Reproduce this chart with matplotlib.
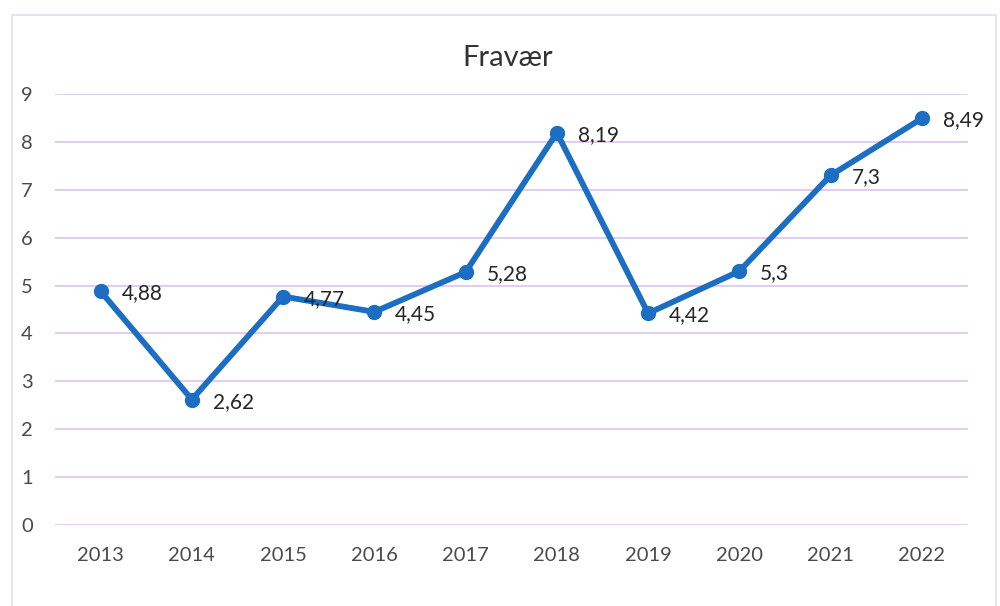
import matplotlib
matplotlib.use("Agg")
import matplotlib.pyplot as plt
from matplotlib.patches import Rectangle

years = ["2013", "2014", "2015", "2016", "2017", "2018", "2019", "2020", "2021", "2022"]
values = [4.88, 2.62, 4.77, 4.45, 5.28, 8.19, 4.42, 5.3, 7.3, 8.49]
labels = ["4,88", "2,62", "4,77", "4,45", "5,28", "8,19", "4,42", "5,3", "7,3", "8,49"]
title = "Fravær"

plt.rcParams['font.family'] = ['Lato', 'DejaVu Sans']
text_color = "#4a4a4a"
grid_color = "#dcc4ea"
line_color = "#1b6ec2"

fig = plt.figure(figsize=(10, 6.06), dpi=100)
fig.patch.set_facecolor("white")
fig.patches.append(Rectangle((0.012, -0.05), 0.984, 1.025, transform=fig.transFigure,
                             fill=False, edgecolor="#e6dcec", linewidth=1.2))

ax = fig.add_axes([0.055, 0.1337, 0.9125, 0.7112])
x = list(range(len(years)))
ax.plot(x, values, color=line_color, linewidth=4.2, marker="o", markersize=10,
        solid_joinstyle="round", zorder=3)
for xi, v, lab in zip(x, values, labels):
    ax.annotate(lab, (xi, v), xytext=(15, -1.5), textcoords="offset points",
                ha="left", va="center", fontsize=15, color="#262626", zorder=4)

ax.set_xlim(-0.5, len(years) - 0.5)
ax.set_ylim(0, 9)
ax.set_yticks(range(0, 10))
ax.set_xticks(x)
ax.set_xticklabels(years)
ax.tick_params(axis="both", length=0, labelsize=14.5, labelcolor=text_color)
ax.tick_params(axis="x", pad=16)
for lab in ax.get_yticklabels():
    lab.set_horizontalalignment("left")
ax.yaxis.set_tick_params(pad=24.5)
ax.grid(axis="y", color=grid_color, linewidth=1.2)
ax.set_axisbelow(True)
for s in ax.spines.values():
    s.set_visible(False)

fig.text(0.508, 0.905, title, ha="center", va="center", fontsize=21, color="#333333")

fig.savefig("out.png", dpi=100)
